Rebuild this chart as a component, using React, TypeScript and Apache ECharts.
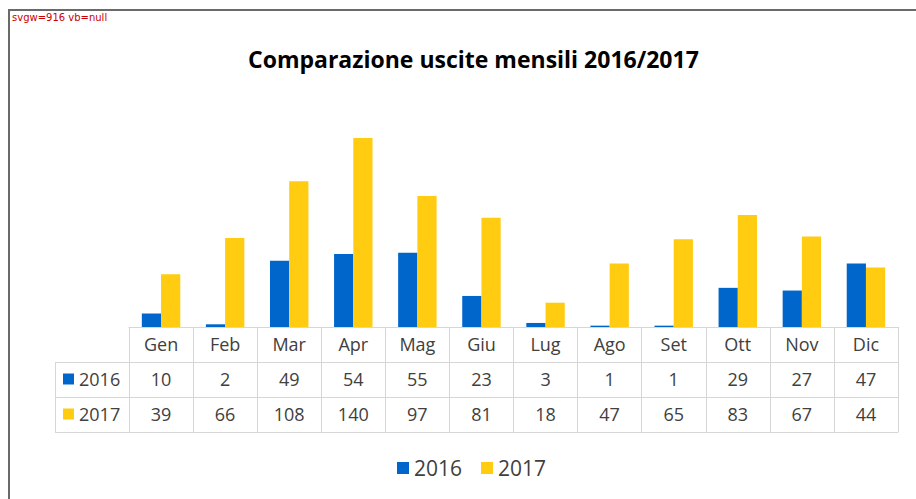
import React, { useEffect, useRef } from "react";
import * as echarts from "echarts";

const titleText = "Comparazione uscite mensili 2016/2017";
const months = ["Gen", "Feb", "Mar", "Apr", "Mag", "Giu", "Lug", "Ago", "Set", "Ott", "Nov", "Dic"];
const values2016 = [10, 2, 49, 54, 55, 23, 3, 1, 1, 29, 27, 47];
const values2017 = [39, 66, 108, 140, 97, 81, 18, 47, 65, 83, 67, 44];
const seriesNames = ["2016", "2017"];
const seriesColors = ["#0066CC", "#FFCC11"];

const FONT = "Open Sans";
const TEXT = "#404040";
const TABLE_LINE = "#D6D6D6";
const ROW_H = 35;

export default function App() {
  const ref = useRef<HTMLDivElement>(null);
  const dbg = useRef<HTMLDivElement>(null);
  useEffect(() => {
    if (!ref.current) return;
    const chart = echarts.init(ref.current, undefined, { renderer: "svg" });
    const labelStyle = { color: TEXT, fontSize: 18, fontFamily: FONT };
    const rowValues = [null, values2016, values2017];
    const tableAxes = [0, 1, 2, 3].map((row) => ({
      type: "category" as const,
      data: months,
      position: "bottom" as const,
      offset: row * ROW_H,
      axisLine: { show: true, lineStyle: { color: TABLE_LINE, width: 1 } },
      axisTick: { show: row < 3, length: ROW_H, interval: 0, lineStyle: { color: TABLE_LINE, width: 1 } },
      axisLabel: {
        show: row < 3,
        interval: 0,
        margin: 8,
        ...labelStyle,
        formatter: (v: string, i: number) => (row === 0 ? v : String((rowValues[row] as number[])[i])),
      },
      splitLine: { show: false },
    }));

    chart.setOption({
      animation: false,
      backgroundColor: "#ffffff",
      title: { text: titleText, left: 248, top: 47, padding: 0, textStyle: { fontFamily: FONT, fontSize: 23, fontWeight: "bold", color: "#000000" } },
      grid: { left: 129, width: 769, top: 111, height: 216, outerBoundsMode: "none", containLabel: false },
      xAxis: tableAxes,
      yAxis: { type: "value", min: 0, max: 160, show: false },
      legend: [
        { data: seriesNames, left: 397, top: 456, padding: 0, itemWidth: 12, itemHeight: 12, itemGap: 19, icon: "rect", selectedMode: false, textStyle: { color: TEXT, fontSize: 21, fontFamily: FONT, lineHeight: 24 } },
        { data: seriesNames, orient: "vertical", left: 63, top: 369, padding: 0, itemWidth: 11, itemHeight: 11, itemGap: 15, icon: "rect", selectedMode: false, textStyle: { color: TEXT, fontSize: 18, fontFamily: FONT, lineHeight: 20 } },
      ],
      series: [
        { name: seriesNames[0], type: "bar", data: values2016, itemStyle: { color: seriesColors[0] }, barGap: "0%", barCategoryGap: "40%" },
        { name: seriesNames[1], type: "bar", data: values2017, itemStyle: { color: seriesColors[1] }, barGap: "0%", barCategoryGap: "40%" },
      ],
      graphic: [
        ...[362, 397, 432].map((y) => ({ type: "line", shape: { x1: 55, y1: y + 0.5, x2: 129, y2: y + 0.5 }, style: { stroke: TABLE_LINE, lineWidth: 1 }, silent: true })),
        { type: "line", shape: { x1: 55.5, y1: 362, x2: 55.5, y2: 433 }, style: { stroke: TABLE_LINE, lineWidth: 1 }, silent: true },
      ],
    });
    const svg = ref.current.querySelector("svg");
    const found: string[] = [];
    if (svg) {
      svg.querySelectorAll("path").forEach((p) => {
        const bb = (p as SVGGraphicsElement).getBBox();
        const ctm = (p as SVGGraphicsElement).getCTM();
        const x2 = ctm ? bb.x * ctm.a + ctm.e + bb.width * ctm.a : bb.x + bb.width;
        if (x2 > 900) found.push(`${p.getAttribute("d")?.slice(0, 40)} tf=${p.getAttribute("transform") || ""} s=${p.getAttribute("stroke")}`);
      });
      found.push(`svgw=${svg.getAttribute("width")} vb=${svg.getAttribute("viewBox")}`);
    }
    if (dbg.current) dbg.current.textContent = found.join(" || ");
    return () => chart.dispose();
  }, []);
  return (
    <div style={{ position: "fixed", left: 0, top: 0, width: 916, height: 499, overflow: "hidden" }}>
      <div ref={ref} style={{ position: "absolute", left: 0, top: 0, width: 916, height: 499 }} />
      <div style={{ position: "absolute", left: 8, top: 9, width: 1000, height: 1000, borderTop: "2px solid #6A6A6A", borderLeft: "2px solid #6A6A6A", pointerEvents: "none" }} />
      <div ref={dbg} style={{ position: "absolute", left: 12, top: 12, width: 880, fontSize: 10, fontFamily: "DejaVu Sans", color: "#c00", background: "rgba(255,255,255,0.8)" }} />
    </div>
  );
}
